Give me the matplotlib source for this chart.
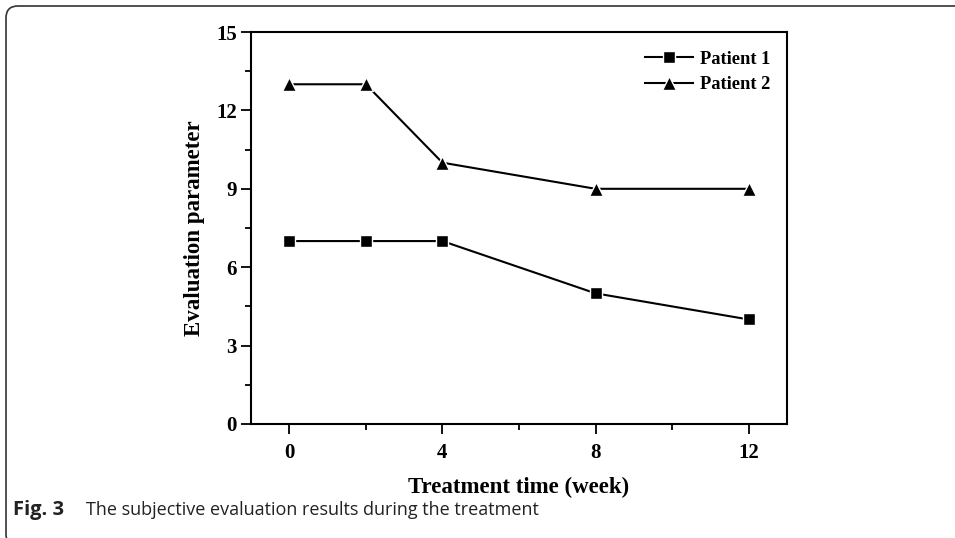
import matplotlib
matplotlib.use("Agg")
import matplotlib.pyplot as plt
from matplotlib.patches import FancyBboxPatch
from matplotlib.ticker import MultipleLocator

# treatment time (weeks) and evaluation scores
weeks = [0, 2, 4, 8, 12]
patient1 = [7, 7, 7, 5, 4]
patient2 = [13, 13, 10, 9, 9]
x_ticks = [0, 4, 8, 12]
y_ticks = [0, 3, 6, 9, 12, 15]

serif = "Liberation Serif"

fig = plt.figure(figsize=(9.55, 5.38), dpi=100)
ax = fig.add_axes([0.2628, 0.2119, 0.5613, 0.7286])

ax.plot(weeks, patient1, color="black", lw=1.5, marker="s", ms=8.5,
        mec="white", mew=1.0, mfc="black", label="Patient 1")
ax.plot(weeks, patient2, color="black", lw=1.5, marker="^", ms=10.5,
        mec="white", mew=1.0, mfc="black", label="Patient 2")

ax.set_xlim(-1, 13)
ax.set_ylim(0, 15)
ax.set_xticks(x_ticks)
ax.set_yticks(y_ticks)
ax.xaxis.set_minor_locator(MultipleLocator(2))
ax.yaxis.set_minor_locator(MultipleLocator(1.5))
ax.tick_params(which="major", direction="out", length=7, width=1.3,
               labelsize=15, pad=3)
ax.tick_params(which="minor", direction="out", length=4, width=1.3)
ax.tick_params(axis="x", pad=7)
for lab in ax.get_xticklabels() + ax.get_yticklabels():
    lab.set_fontfamily(serif)
    lab.set_fontweight("bold")
for sp in ax.spines.values():
    sp.set_linewidth(1.5)

ax.set_xlabel("Treatment time (week)", fontfamily=serif, fontweight="bold",
              fontsize=16.5, labelpad=10)
ax.set_ylabel("Evaluation parameter", fontfamily=serif, fontweight="bold",
              fontsize=16.5, labelpad=8)

ax.legend(loc="upper left", bbox_to_anchor=(0.735, 0.952), frameon=False,
          prop={"family": serif, "weight": "bold", "size": 13.3},
          handlelength=2.6, handletextpad=0.4, borderpad=0, borderaxespad=0,
          labelspacing=0.45)

# rounded frame around the figure, running off the right and bottom edges
frame = FancyBboxPatch((6, -8), 1000, 540, boxstyle="round,pad=0,rounding_size=12",
                       transform=None, fill=False, edgecolor="#333333", lw=1.2,
                       clip_on=False)
fig.patches.append(frame)

fig.text(13 / 955, 1 - 510 / 538, "Fig. 3", fontfamily="Open Sans",
         fontweight="bold", fontsize=14.5, va="center", ha="left", color="#222222")
fig.text(86 / 955, 1 - 510 / 538, "The subjective evaluation results during the treatment",
         fontfamily="Open Sans", fontsize=13, va="center", ha="left", color="#222222")

fig.savefig("out.png", dpi=100)
